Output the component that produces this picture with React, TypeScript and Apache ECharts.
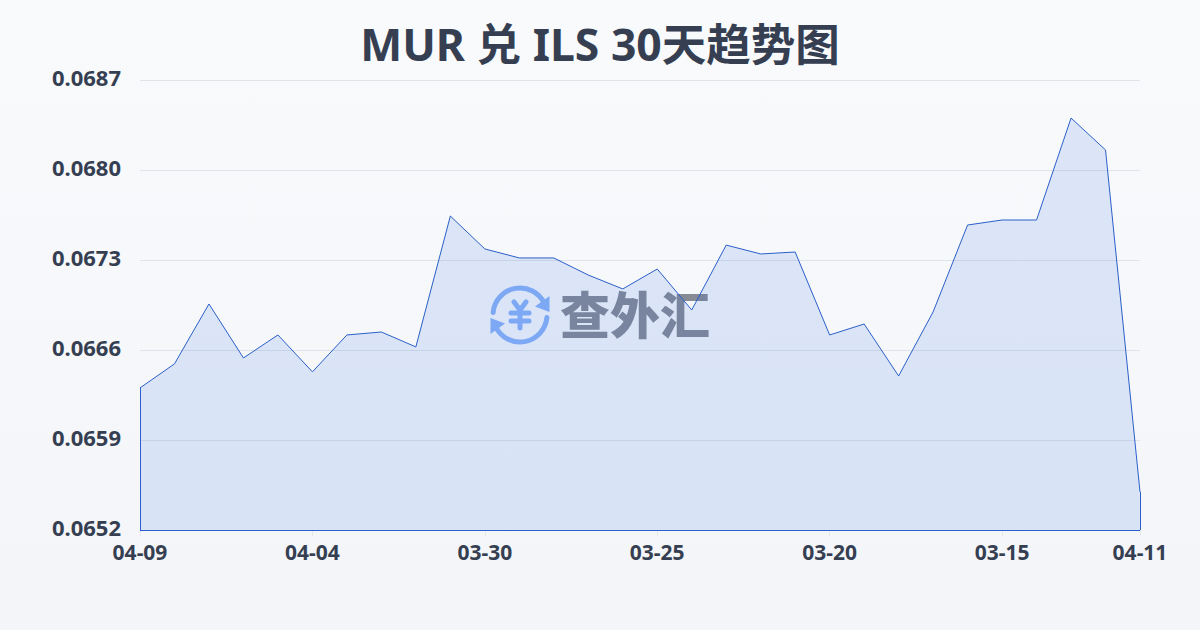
import React, { useEffect, useRef } from "react";
import * as echarts from "echarts";

const titleText = "MUR 兑 ILS 30天趋势图";
const categories = [
  "04-09","04-08","04-07","04-06","04-05","04-04","04-03","04-02","04-01","03-31",
  "03-30","03-29","03-28","03-27","03-26","03-25","03-24","03-23","03-22","03-21",
  "03-20","03-19","03-18","03-17","03-16","03-15","03-14","03-13","03-12","04-11",
];
const rates = [
  0.066305,0.066492,0.066958,0.066538,0.066717,0.06643,0.066717,0.06674,0.066624,0.067642,
  0.067386,0.067316,0.067316,0.067183,0.067075,0.06723,0.066911,0.067416,0.067347,0.067362,
  0.066717,0.066802,0.066398,0.066896,0.067572,0.067611,0.067611,0.068404,0.068156,0.065496,
];
const labelledIndexes = [0, 5, 10, 15, 20, 25, 29];
const yMin = 0.0652;
const yMax = 0.0687;
const yStep = 0.0007;

const LINE = "#2b5fc9";
const ICON = "#8ab2f6";
const ink = "#363f52";
const font = "'Noto Sans', 'Noto Sans CJK SC', sans-serif";

export default function App() {
  const ref = useRef<HTMLDivElement>(null);
  useEffect(() => {
    const chart = echarts.init(ref.current!, null, { renderer: "svg" });
    const last = categories.length - 1;
    const iconLine = { stroke: ICON, lineWidth: 5, lineCap: "round", fill: "none" };
    chart.setOption({
      animation: false,
      backgroundColor: {
        type: "linear", x: 0, y: 0, x2: 0, y2: 1,
        colorStops: [{ offset: 0, color: "#f8fafc" }, { offset: 1, color: "#f3f5f8" }],
      },
      title: {
        text: titleText, left: "center", top: 16,
        textStyle: { fontFamily: font, fontSize: 44.5, fontWeight: "bold", color: ink },
      },
      grid: { left: 140, right: 60, top: 80, bottom: 100 },
      xAxis: {
        type: "category", boundaryGap: false, data: categories,
        axisLine: { show: false },
        axisTick: { show: true, length: 6, interval: (i: number) => labelledIndexes.includes(i), lineStyle: { color: "#e5e7eb" } },
        axisLabel: {
          interval: (i: number) => labelledIndexes.includes(i), margin: 11,
          fontFamily: font, fontSize: 21, fontWeight: "bold", color: ink,
        },
        splitLine: { show: false },
      },
      yAxis: {
        type: "value", min: yMin, max: yMax, interval: yStep,
        axisLine: { show: false }, axisTick: { show: false },
        axisLabel: {
          margin: 19, formatter: (v: number) => v.toFixed(4),
          fontFamily: font, fontSize: 22, fontWeight: "bold", color: ink,
          verticalAlign: "bottom", lineHeight: 6,
        },
        splitLine: { lineStyle: { color: "#dfe3ea", width: 1 } },
      },
      graphic: [
        {
          type: "group", z: 10, silent: true,
          children: [
            { type: "arc", shape: { cx: 520, cy: 315, r: 27, startAngle: -Math.PI * 0.97, endAngle: -Math.PI * 0.14 }, style: iconLine },
            { type: "arc", shape: { cx: 520, cy: 315, r: 27, startAngle: Math.PI * 0.03, endAngle: Math.PI * 0.86 }, style: iconLine },
            { type: "polygon", shape: { points: [[549.5, 296], [549.5, 312], [535, 306.5]] }, style: { fill: ICON } },
            { type: "polygon", shape: { points: [[490.5, 334], [490.5, 318], [505, 323.5]] }, style: { fill: ICON } },
            { type: "polyline", shape: { points: [[514, 302], [520, 310], [526, 302]] }, style: iconLine },
            { type: "line", shape: { x1: 511, y1: 313, x2: 529, y2: 313 }, style: iconLine },
            { type: "line", shape: { x1: 511, y1: 321, x2: 529, y2: 321 }, style: iconLine },
            { type: "line", shape: { x1: 520, y1: 310, x2: 520, y2: 328 }, style: iconLine },
            {
              type: "text", x: 560, y: 312,
              style: {
                text: "查外汇", fontFamily: "'Noto Sans CJK SC', sans-serif", fontSize: 50, fontWeight: 900,
                fill: "rgba(60,65,80,0.6)", textVerticalAlign: "middle", textAlign: "left",
              },
            },
          ],
        },
      ],
      series: [
        {
          type: "line", data: rates, symbol: "none", smooth: false, z: 3,
          lineStyle: { color: LINE, width: 1 },
          areaStyle: { color: "rgba(37,99,235,0.13)", origin: "start", opacity: 1 },
          markLine: {
            silent: true, symbol: "none", label: { show: false },
            lineStyle: { color: LINE, width: 1, type: "solid" },
            data: [
              [{ xAxis: 0, yAxis: yMin }, { xAxis: 0, yAxis: rates[0] }],
              [{ xAxis: 0, yAxis: yMin }, { xAxis: last, yAxis: yMin }],
              [{ xAxis: last, yAxis: yMin }, { xAxis: last, yAxis: rates[last] }],
            ],
          },
        },
      ],
    });
    return () => chart.dispose();
  }, []);
  return <div ref={ref} style={{ position: "absolute", left: 0, top: 0, width: 1200, height: 630 }} />;
}
